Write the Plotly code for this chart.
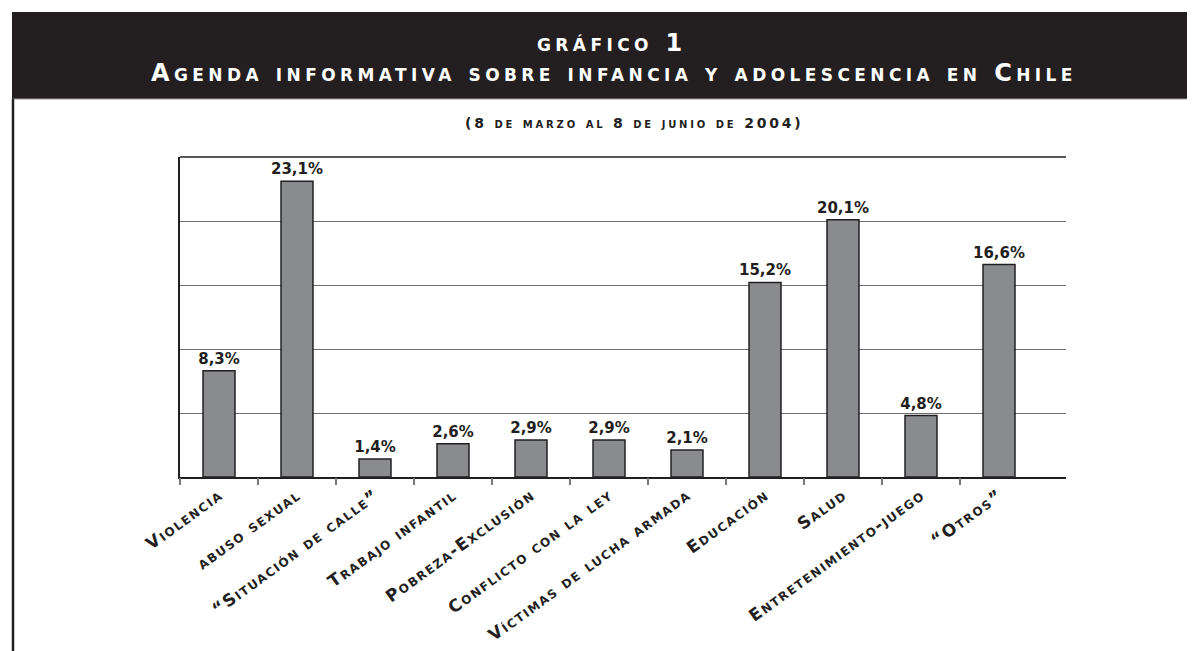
import plotly.graph_objects as go

categories = [
    "Violencia", "abuso sexual", "“Situación de calle”", "Trabajo infantil",
    "Pobreza-Exclusión", "Conflicto con la ley", "Víctimas de lucha armada",
    "Educación", "Salud", "Entretenimiento-juego", "“Otros”",
]
values = [8.3, 23.1, 1.4, 2.6, 2.9, 2.9, 2.1, 15.2, 20.1, 4.8, 16.6]
labels = [f"{v:.1f}".replace(".", ",") + "%" for v in values]

title_1 = "gráfico 1"
title_2 = "Agenda informativa sobre infancia y adolescencia en Chile"
subtitle = "(8 de marzo al 8 de junio de 2004)"

# the page body has an 8px margin; work in window (screen) pixels
OFF = 8
W_FIG, H_FIG = 1195 - OFF, 651 - OFF
L, R, T, B = 180, 1066, 157, 477  # plot area in window pixels
PW, PH = R - L, B - T
CAT_W = 78  # pixel width of one category slot
X_MAX = -0.5 + PW / CAT_W
# separator ticks between categories (none after the last one)
sep_ticks = [i - 0.5 for i in range(len(categories))]


def px(x):
    return (x - L) / PW


def py(y):
    return (B - y) / PH


def spaced(s, sp):
    return f'<span style="letter-spacing:{sp}px">{s}</span>'


DARK = "#231f20"
FONT = "DejaVu Sans"

fig = go.Figure()
fig.add_trace(
    go.Bar(
        x=categories,
        y=values,
        text=labels,
        textposition="outside",
        constraintext="none",
        cliponaxis=False,
        width=0.41,
        marker=dict(color="#8a8b8e", line=dict(color=DARK, width=1.5)),
        textfont=dict(family=FONT, size=15, color=DARK, weight="bold"),
    )
)
# empty helper trace so that the overlaid separator-tick axis is drawn
fig.add_trace(
    go.Scatter(x=[None], y=[None], xaxis="x2", yaxis="y", mode="markers",
               showlegend=False, hoverinfo="skip")
)

fig.update_layout(
    width=W_FIG,
    height=H_FIG,
    autosize=False,
    margin=dict(l=L - OFF, r=W_FIG - (R - OFF), t=T - OFF, b=H_FIG - (B - OFF), pad=0),
    paper_bgcolor="white",
    plot_bgcolor="white",
    showlegend=False,
    font=dict(family=FONT, color=DARK, variant="small-caps", weight="bold"),
    xaxis=dict(
        automargin=False,
        range=[-0.5, X_MAX],
        showline=True,
        linecolor=DARK,
        linewidth=1.5,
        ticks="",
        tickangle=-36,
        tickvals=categories,
        ticktext=[spaced(c, 1.5) for c in categories],
        tickfont=dict(family=FONT, size=17, color=DARK, weight="bold", variant="small-caps"),
        showgrid=False,
        zeroline=False,
    ),
    xaxis2=dict(
        type="linear",
        overlaying="x",
        side="bottom",
        anchor="y",
        automargin=False,
        range=[-0.5, X_MAX],
        tickvals=sep_ticks,
        ticks="outside",
        ticklen=7,
        tickcolor="#777777",
        tickwidth=1.5,
        showticklabels=False,
        showgrid=False,
        zeroline=False,
        showline=False,
    ),
    yaxis=dict(
        automargin=False,
        range=[0, 25],
        dtick=5,
        showticklabels=False,
        showgrid=True,
        gridcolor="#6d6e71",
        gridwidth=1,
        showline=True,
        linecolor=DARK,
        linewidth=1.5,
        zeroline=False,
        ticks="",
    ),
)

shapes = [
    # header bar
    dict(type="rect", xref="paper", yref="paper", x0=px(12), x1=px(1210),
         y0=py(99), y1=py(12), fillcolor=DARK, line=dict(width=0), layer="above"),
    # header bottom edge
    dict(type="line", xref="paper", yref="paper", x0=px(13), x1=px(1210),
         y0=py(99), y1=py(99), line=dict(color="#9a9a9a", width=1)),
    # left frame line
    dict(type="line", xref="paper", yref="paper", x0=px(13), x1=px(13),
         y0=py(99), y1=py(670), line=dict(color=DARK, width=2.5)),
    # top plot line
    dict(type="line", xref="paper", yref="paper", x0=0, x1=1,
         y0=1, y1=1, line=dict(color=DARK, width=1.5)),
]
fig.update_layout(shapes=shapes)

annotations = [
    dict(text=spaced(title_1, 4.4), x=px(612), y=py(43), xref="paper", yref="paper",
         showarrow=False, xanchor="center", yanchor="middle",
         font=dict(family=FONT, size=24, color="white", weight="bold", variant="small-caps")),
    dict(text=spaced(title_2, 4.4), x=px(614), y=py(73), xref="paper", yref="paper",
         showarrow=False, xanchor="center", yanchor="middle",
         font=dict(family=FONT, size=24, color="white", weight="bold", variant="small-caps")),
    dict(text=spaced(subtitle, 2.8), x=px(634), y=py(123), xref="paper", yref="paper",
         showarrow=False, xanchor="center", yanchor="middle",
         font=dict(family=FONT, size=14, color=DARK, weight="bold", variant="small-caps")),
]
fig.update_layout(annotations=annotations)

fig.write_html("out.html")
